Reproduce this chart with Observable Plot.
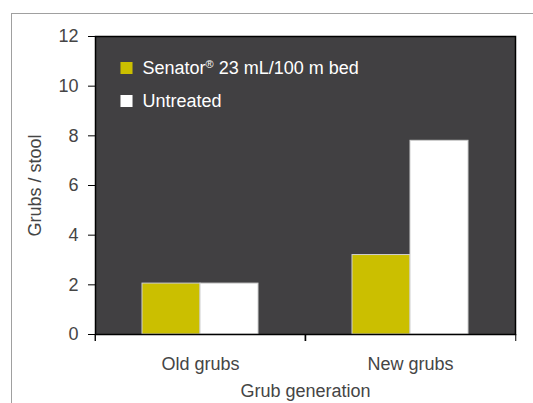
<!DOCTYPE html>
<html>
<head>
<meta charset="utf-8">
<script src="https://cdn.jsdelivr.net/npm/d3@7"></script>
<script src="https://cdn.jsdelivr.net/npm/@observablehq/plot@0.6"></script>
<style>
  html, body { margin: 0; padding: 0; background: #fff; overflow: hidden; }
  #wrap { position: relative; width: 533px; height: 403px; }
  #outer { position: absolute; left: 11px; top: 13px; width: 600px; height: 500px;
           border-left: 1px solid #a0a0a0; border-top: 1px solid #a0a0a0; box-sizing: border-box; }
  #chart { position: absolute; left: 0; top: 0; }
</style>
</head>
<body>
<div id="wrap"><div id="outer"></div><div id="chart"></div></div>
<script>
const generations = ["Old grubs", "New grubs"];
const treatments = ["Senator", "Untreated"];
const treatmentLabels = ["Senator® 23 mL/100 m bed", "Untreated"];
const senatorValues = [2.05, 3.2];
const untreatedValues = [2.05, 7.8];
const yTicks = [0, 2, 4, 6, 8, 10, 12];
const colors = ["#cbbf00", "#ffffff"];

const rows = generations.flatMap((g, i) => [
  {generation: g, treatment: treatments[0], value: senatorValues[i]},
  {generation: g, treatment: treatments[1], value: untreatedValues[i]}
]);

const W = 533, H = 403, mL = 94, mR = 18, mT = 36, mB = 69;
const half = (W - mL - mR) / generations.length / 2;
const textColor = "#454545";
const font = "Liberation Sans, Arial, Helvetica, sans-serif";

const legendMarks = treatments.flatMap((t, i) => [
  Plot.dot([t], {facet: "super", frameAnchor: "top-left", dx: 31, dy: 31.5 + 33 * i,
    symbol: "square", r: 6.8, fill: colors[i], stroke: null}),
  Plot.text([treatmentLabels[i]], {facet: "super", frameAnchor: "top-left", dx: 47, dy: 31.5 + 33 * i,
    text: d => d, textAnchor: "start", lineAnchor: "middle", fill: "#ffffff", fontSize: 18})
]);

const chart = Plot.plot({
  width: W, height: H,
  marginLeft: mL, marginRight: mR, marginTop: mT, marginBottom: mB,
  style: {fontFamily: font, fontSize: "18px", color: textColor, background: "transparent"},
  fx: {domain: generations, padding: 0},
  x: {domain: treatments, paddingInner: 0, paddingOuter: 0.78, axis: null},
  y: {domain: [0, 12]},
  color: {domain: treatments, range: colors},
  marks: [
    Plot.frame({fill: "#414042", stroke: null, facet: "super"}),
    Plot.barY(rows, {fx: "generation", x: "treatment", y: "value", fill: "treatment",
      stroke: "#cfcfcf", strokeWidth: 1}),
    Plot.frame({fill: null, stroke: "#000", strokeWidth: 1.5, facet: "super"}),
    Plot.axisY({ticks: yTicks, tickSize: 7, tickPadding: 10, fontSize: 18, fill: textColor,
      stroke: "#000", label: "Grubs / stool", labelAnchor: "center", labelOffset: 67, labelArrow: "none"}),
    Plot.axisFx({anchor: "bottom", tickSize: 0, tickPadding: 23, fontSize: 18, fill: textColor,
      label: "Grub generation", labelAnchor: "center", labelOffset: 62, labelArrow: "none"}),
    Plot.axisFx(generations, {anchor: "bottom", tickSize: 7, tickFormat: () => "", dx: -half, stroke: "#000", label: null}),
    Plot.axisFx([generations[generations.length - 1]], {anchor: "bottom", tickSize: 7, tickFormat: () => "", dx: half, stroke: "#000", label: null}),
    ...legendMarks
  ]
});

// superscript the registered sign in the legend
d3.select(chart).selectAll("text").each(function() {
  const el = d3.select(this);
  const target = el.selectAll("tspan").empty() ? el : el.select("tspan");
  const s = target.text();
  const k = s.indexOf("®");
  if (k < 0) return;
  target.text("");
  target.append("tspan").text(s.slice(0, k));
  target.append("tspan").attr("font-size", 11).attr("dy", -6).text("®");
  target.append("tspan").attr("dy", 6).text(s.slice(k + 1));
});

document.getElementById("chart").appendChild(chart);
</script>
</body>
</html>
